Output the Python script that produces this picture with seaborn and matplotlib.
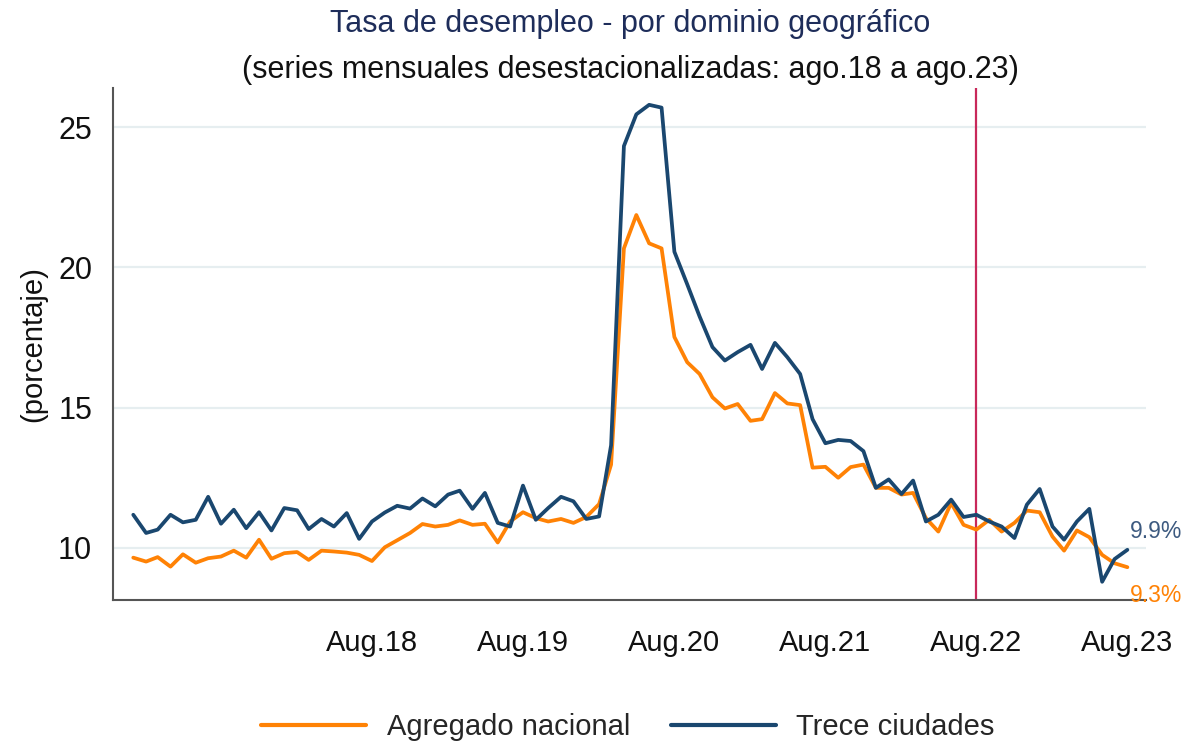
import pandas as pd
import numpy as np
import matplotlib
matplotlib.use("Agg")
import matplotlib.pyplot as plt
import seaborn as sns

# monthly series, Jan.2017 - Aug.2023
meses = pd.date_range("2017-01-01", "2023-08-01", freq="MS")

nacional = [
    9.65, 9.51, 9.67, 9.33, 9.77, 9.47, 9.63, 9.69, 9.90, 9.65, 10.29, 9.61,
    9.81, 9.85, 9.57, 9.90, 9.87, 9.83, 9.75, 9.53, 10.02, 10.27, 10.53, 10.85,
    10.76, 10.82, 10.98, 10.82, 10.86, 10.19, 10.94, 11.27, 11.06, 10.94, 11.03, 10.89,
    11.10, 11.56, 12.97, 20.68, 21.87, 20.86, 20.68, 17.52, 16.62, 16.20, 15.37, 14.97,
    15.13, 14.53, 14.59, 15.52, 15.15, 15.09, 12.86, 12.89, 12.50, 12.88, 12.97, 12.14,
    12.14, 11.90, 11.96, 11.06, 10.58, 11.60, 10.82, 10.65, 11.00, 10.58, 10.89, 11.33,
    11.27, 10.40, 9.90, 10.62, 10.38, 9.75, 9.45, 9.31,
]
trece = [
    11.18, 10.53, 10.65, 11.18, 10.91, 11.00, 11.82, 10.86, 11.36, 10.70, 11.27, 10.62,
    11.42, 11.34, 10.67, 11.03, 10.76, 11.24, 10.32, 10.94, 11.26, 11.50, 11.40, 11.76,
    11.48, 11.90, 12.04, 11.39, 11.96, 10.89, 10.76, 12.22, 11.00, 11.42, 11.82, 11.66,
    11.03, 11.12, 13.66, 24.33, 25.46, 25.80, 25.70, 20.56, 19.40, 18.25, 17.16, 16.68,
    16.98, 17.24, 16.38, 17.31, 16.80, 16.20, 14.59, 13.73, 13.85, 13.81, 13.45, 12.14,
    12.44, 11.92, 12.40, 10.94, 11.18, 11.72, 11.10, 11.18, 10.94, 10.76, 10.35, 11.54,
    12.10, 10.76, 10.29, 10.94, 11.39, 8.79, 9.60, 9.93,
]

series = ["Agregado nacional", "Trece ciudades"]
colores = {"Agregado nacional": "#ff8205", "Trece ciudades": "#1a476f"}
ticks_x = [pd.Timestamp(f"20{a}-08-01") for a in range(18, 24)]
etiquetas_x = [f"Aug.{a}" for a in range(18, 24)]

df = pd.concat([
    pd.DataFrame({"fecha": meses, "tasa": nacional, "serie": series[0]}),
    pd.DataFrame({"fecha": meses, "tasa": trece, "serie": series[1]}),
])

sns.set_style("white")
plt.rcParams["font.family"] = ["Liberation Sans", "DejaVu Sans"]

fig = plt.figure(figsize=(11.83, 7.46), dpi=100)
ax = fig.add_axes([113 / 1183, 1 - 600 / 746, (1146 - 113) / 1183, (600 - 88) / 746])

# gridlines first so the lines sit on top
for v in [10, 15, 20, 25]:
    ax.axhline(v, color="#e6eef0", lw=1.6, zorder=0)

sns.lineplot(data=df, x="fecha", y="tasa", hue="serie", palette=colores,
             linewidth=2.7, ax=ax, legend=False, zorder=3)

ax.axvline(pd.Timestamp("2022-08-01"), color="#c8285a", lw=1.6, zorder=2)

ax.set_ylim(8.14, 26.4)
ax.set_xlim(pd.Timestamp("2016-11-13"), pd.Timestamp("2023-09-15"))
ax.set_yticks([10, 15, 20, 25])
ax.set_xticks(ticks_x)
ax.set_xticklabels(etiquetas_x)

for s in ["top", "right"]:
    ax.spines[s].set_visible(False)
for s in ["left", "bottom"]:
    ax.spines[s].set_color("#555555")
    ax.spines[s].set_linewidth(1.5)

ax.tick_params(axis="both", labelsize=21, colors="#555555", labelcolor="#111111",
               length=9, width=1.4, pad=6)
ax.tick_params(axis="y", labelsize=22)
ax.tick_params(axis="x", pad=12)
ax.set_xlabel("")
ax.set_ylabel("(porcentaje)", fontsize=21, color="#111111", labelpad=8)

# end-of-series labels
ax.text(pd.Timestamp("2023-08-08"), 10.6, "9.9%", fontsize=16.5, color="#3d5a80",
        ha="left", va="center", clip_on=False)
ax.text(pd.Timestamp("2023-08-08"), 8.3, "9.3%", fontsize=16.5, color="#ff8205",
        ha="left", va="center", clip_on=False)

fig.text(630 / 1183, 1 - 24 / 746, "Tasa de desempleo - por dominio geográfico",
         fontsize=22, color="#1e2d5a", ha="center", va="center")
fig.text(630 / 1183, 1 - 70 / 746, "(series mensuales desestacionalizadas: ago.18 a ago.23)",
         fontsize=22, color="#111111", ha="center", va="center")

handles = [plt.Line2D([], [], color=colores[s], lw=3) for s in series]
fig.legend(handles, series, loc="center", bbox_to_anchor=(628 / 1183, 1 - 727 / 746),
           ncol=2, frameon=False, fontsize=21, handlelength=3.6, handletextpad=0.7,
           columnspacing=1.4)

fig.savefig("out.png", dpi=100)
